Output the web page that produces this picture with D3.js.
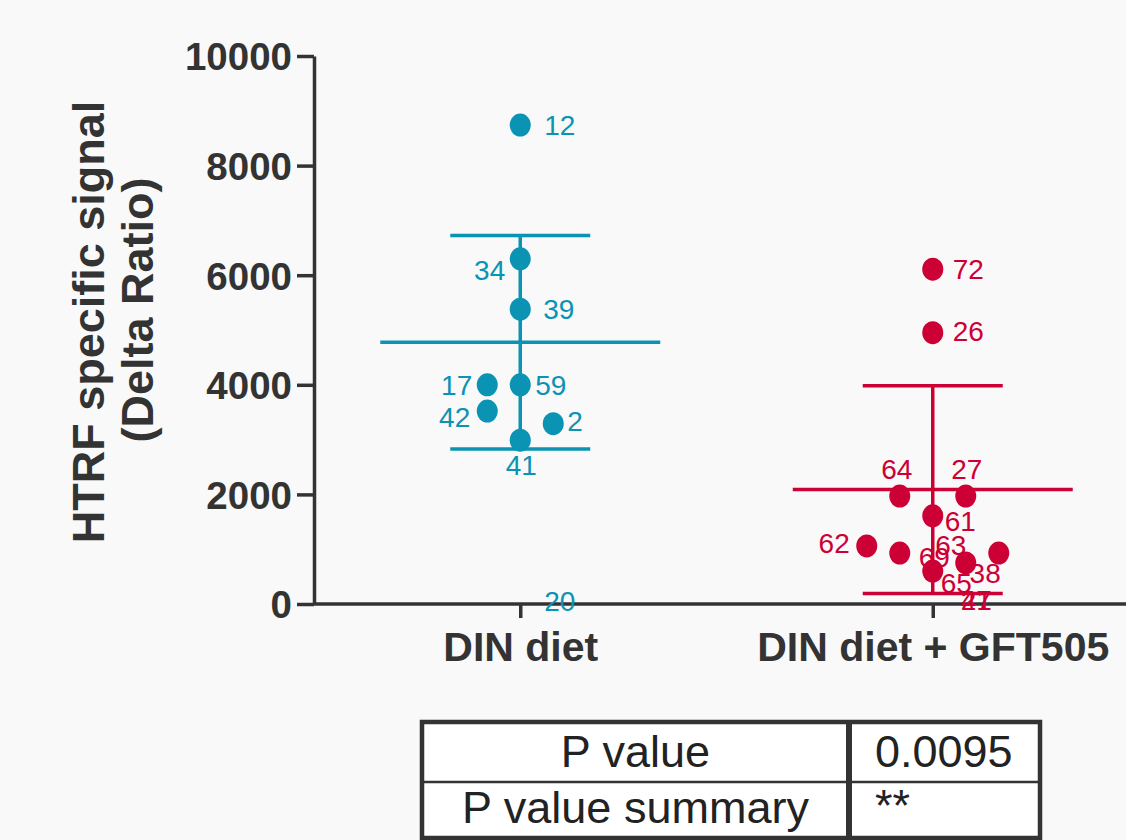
<!DOCTYPE html>
<html>
<head>
<meta charset="utf-8">
<script src="https://cdn.jsdelivr.net/npm/d3@7"></script>
<style>
  html, body { margin: 0; padding: 0; background: #f9f9f9; }
  svg { display: block; font-family: "Liberation Sans", Arial, sans-serif; }
</style>
</head>
<body>
<svg id="chart" width="1126" height="840"></svg>
<script>
// ---------------- DATA ----------------
const categories = ["DIN diet", "DIN diet + GFT505"];
const yTicks = [0, 2000, 4000, 6000, 8000, 10000];

// Group 1: DIN diet (animal ids and values; null = no measured value, label only)
const dinIds    = ["12", "34", "39", "17", "59", "42", "2", "41", "20"];
const dinValues = [8740, 6300, 5380, 4000, 4000, 3520, 3290, 2990, null];

// Group 2: DIN diet + GFT505
const gftIds    = ["72", "26", "64", "27", "61", "62", "69", "63", "65", "38", "21", "47"];
const gftValues = [6110, 4950, 1970, 1970, 1610, 1060, 930, 750, 600, 930, null, null];

const tableLabels = ["P value", "P value summary"];
const tableValues = ["0.0095", "**"];

// ---------------- LAYOUT (not data) ----------------
const colors = ["#0b93b3", "#cc0035"];
// horizontal scatter slot per point (in dot widths)
const dinSlots = [0, 0, 0, -1, 0, -1, 1, 0, 0];
const gftSlots = [0, 0, -1, 1, 0, -2, -1, 1, 0, 2, 0, 0];
// label placement per point: [dx, dy, anchor]
const dinLabelPos = [[24,0,"start"],[-15,11,"end"],[23,0,"start"],[-15,0,"end"],[15,0,"start"],
                     [-17,6,"end"],[14,-3,"start"],[1,25,"middle"],[24,-3,"start"]];
const gftLabelPos = [[20,0,"start"],[20,-2,"start"],[-3,-27,"middle"],[1,-27,"middle"],[12,5,"start"],
                     [-17,-3,"end"],[19,4,"start"],[-15,-18,"middle"],[8,12,"start"],[2,20,"end"],
                     [28,-4,"start"],[28,-4,"start"]];

const groups = [
  {name: categories[0], ids: dinIds, values: dinValues, slots: dinSlots, lp: dinLabelPos, color: colors[0]},
  {name: categories[1], ids: gftIds, values: gftValues, slots: gftSlots, lp: gftLabelPos, color: colors[1]}
];

const svg = d3.select("#chart");
const axisColor = "#333333";

const y = d3.scaleLinear().domain([0, 10000]).range([604, 56]);
const x = d3.scalePoint().domain(categories).range([314, 1139]).padding(0.5);
const slotW = 33;

// ---------- Y axis ----------
const yAxisG = svg.append("g").attr("transform", "translate(314,0)")
  .call(d3.axisLeft(y).tickValues(yTicks).tickSize(17).tickSizeOuter(0).tickPadding(5).tickFormat(d3.format("d")));
yAxisG.select(".domain").attr("stroke", axisColor).attr("stroke-width", 3.5);
yAxisG.selectAll(".tick line").attr("stroke", axisColor).attr("stroke-width", 3.5);
yAxisG.selectAll(".tick text").attr("fill", axisColor).style("font-size", "38.5px").style("font-weight", "bold")
  .attr("font-family", "Liberation Sans, Arial, sans-serif").attr("dy", "0.36em");

// ---------- X axis ----------
const xAxisG = svg.append("g").attr("transform", "translate(0,604)")
  .call(d3.axisBottom(x).tickSize(14).tickSizeOuter(0).tickPadding(14));
xAxisG.select(".domain").attr("stroke", axisColor).attr("stroke-width", 3.5).attr("d", "M314,0H1126");
xAxisG.selectAll(".tick line").attr("stroke", axisColor).attr("stroke-width", 3.5);
xAxisG.selectAll(".tick text").attr("fill", axisColor).style("font-size", "41px").style("font-weight", "bold")
  .attr("font-family", "Liberation Sans, Arial, sans-serif");

// ---------- Y title ----------
const yTitle = svg.append("g").attr("fill", axisColor).style("font-weight", "bold").style("font-size", "45px");
yTitle.append("text").attr("transform", "translate(104,322) rotate(-90)").attr("text-anchor", "middle")
  .text("HTRF specific signal");
yTitle.append("text").attr("transform", "translate(153,310) rotate(-90)").attr("text-anchor", "middle")
  .text("(Delta Ratio)");

// ---------- Groups ----------
groups.forEach(g => {
  const cx = x(g.name);
  const pts = g.ids.map((id, i) => ({id, v: g.values[i], slot: g.slots[i], lp: g.lp[i]}));
  const measured = pts.filter(p => p.v !== null).map(p => p.v);
  const mean = d3.mean(measured);
  const sd = d3.deviation(measured);
  const G = svg.append("g");

  // error bar
  G.append("line").attr("x1", cx).attr("x2", cx).attr("y1", y(mean + sd)).attr("y2", y(mean - sd))
    .attr("stroke", g.color).attr("stroke-width", 3.5);
  [mean + sd, mean - sd].forEach(v => {
    G.append("line").attr("x1", cx - 70).attr("x2", cx + 70).attr("y1", y(v)).attr("y2", y(v))
      .attr("stroke", g.color).attr("stroke-width", 3.5);
  });
  G.append("line").attr("x1", cx - 140).attr("x2", cx + 140).attr("y1", y(mean)).attr("y2", y(mean))
    .attr("stroke", g.color).attr("stroke-width", 3.5);

  // dots
  G.selectAll("ellipse").data(pts.filter(p => p.v !== null)).join("ellipse")
    .attr("cx", p => cx + p.slot * slotW).attr("cy", p => y(p.v))
    .attr("rx", 10.5).attr("ry", 11.5).attr("fill", g.color);

  // labels
  G.selectAll("text.lbl").data(pts).join("text").attr("class", "lbl")
    .attr("x", p => cx + p.slot * slotW + p.lp[0])
    .attr("y", p => y(p.v === null ? 0 : p.v) + p.lp[1])
    .attr("text-anchor", p => p.lp[2])
    .attr("dy", "0.36em")
    .attr("fill", g.color).style("font-size", "28px")
    .text(p => p.id);
});

// ---------- Table ----------
const T = svg.append("g");
const tx0 = 422, tx1 = 1040, tDiv = 849, ty0 = 722, tRow = 782, ty1 = 838;
T.append("rect").attr("x", tx0).attr("y", ty0).attr("width", tx1 - tx0).attr("height", ty1 - ty0)
  .attr("fill", "#ffffff").attr("stroke", axisColor).attr("stroke-width", 4.5);
T.append("line").attr("x1", tDiv).attr("x2", tDiv).attr("y1", ty0).attr("y2", ty1)
  .attr("stroke", axisColor).attr("stroke-width", 6);
T.append("line").attr("x1", tx0).attr("x2", tx1).attr("y1", tRow).attr("y2", tRow)
  .attr("stroke", axisColor).attr("stroke-width", 2.5);
const rowBase = [767, 823];
T.selectAll("text.lab").data(tableLabels).join("text").attr("class", "lab")
  .attr("x", (tx0 + tDiv) / 2).attr("y", (d, i) => rowBase[i]).attr("text-anchor", "middle")
  .attr("fill", "#222").style("font-size", "45px").text(d => d);
T.selectAll("text.val").data(tableValues).join("text").attr("class", "val")
  .attr("x", 875).attr("y", (d, i) => rowBase[i] + (d === "**" ? -2 : 0))
  .attr("fill", "#222").style("font-size", "45px").text(d => d);
</script>
</body>
</html>
